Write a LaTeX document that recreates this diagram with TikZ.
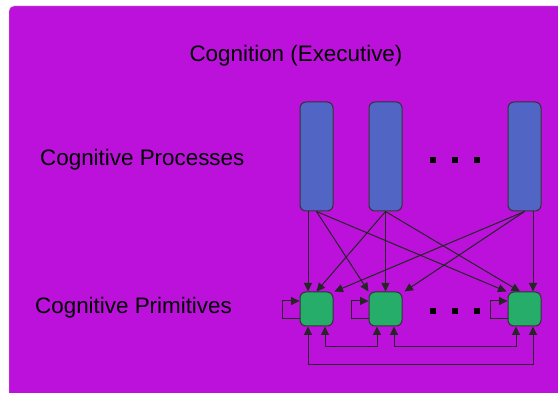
\documentclass[tikz,border=0pt]{standalone}
\usepackage{fontspec}
\setmainfont{Liberation Sans}
\usetikzlibrary{calc,arrows.meta}

\definecolor{execpurple}{RGB}{187,17,219}
\definecolor{procblue}{RGB}{80,101,196}
\definecolor{primgreen}{RGB}{38,173,106}

\tikzset{
  label/.style={inner sep=0pt, font=\fontsize{22.4}{27}\selectfont},
  procbox/.style={draw=black!80, line width=1pt, fill=procblue, rounded corners=6pt, minimum width=33pt, minimum height=109pt, inner sep=0pt},
  primbox/.style={draw=black!80, line width=1pt, fill=primgreen, rounded corners=6pt, minimum width=33pt, minimum height=34pt, inner sep=0pt},
  wire/.style={draw=black!85, line width=1pt, -{Triangle[length=8.5pt,width=8pt]}},
  twowire/.style={draw=black!85, line width=1pt, {Triangle[length=8.5pt,width=8pt]}-{Triangle[length=8.5pt,width=8pt]}}
}

\begin{document}
\begin{tikzpicture}[x=1pt,y=-1pt]
			%%%%% START %%%%%
			\useasboundingbox (0,0) rectangle (558,393);
			\fill[white] (0,0) rectangle (558,393);
			\draw[fill=execpurple, draw=black!25, rounded corners=5pt] (9,6) rectangle (575,410);
			
			\node[label] (title) at (296,56) {Cognition (Executive)};
			\node[label, anchor=west] (proc) at (40,160) {Cognitive Processes};
			\node[label, anchor=west] (prim) at (35,308) {Cognitive Primitives};
			
			% process columns
			\node[procbox] (b1) at (316.5,156.5) {};
			\node[procbox] (b2) at (385.5,156.5) {};
			\node[procbox] (b3) at (524.5,156.5) {};
			
			% primitives
			\node[primbox] (g1) at (316.5,309) {};
			\node[primbox] (g2) at (385.5,309) {};
			\node[primbox] (g3) at (524.5,309) {};
			
			% ellipsis dots
			\foreach \x in {433,455,477} {
				\fill (\x-3,157) rectangle (\x+3,163);
				\fill (\x-3,308) rectangle (\x+3,314);
			}
			
			% processes down to primitives
			\draw[wire] ($(b1.south)+(-8.5,0)$) -- ($(g1.north)+(-8.5,0)$);
			\draw[wire] (b1.south) -- (g2.north west);
			\draw[wire] (b1.south) -- ($(g3.north west)+(-1,0)$);
			\draw[wire] (b2.south) -- (g1.north);
			\draw[wire] (b2.south) -- (g2.north);
			\draw[wire] (b2.south) -- ($(g3.north)+(-4.5,0)$);
			\draw[wire] (b3.south) -- ($(g1.north east)+(1,0)$);
			\draw[wire] (b3.south) -- ($(g2.north east)+(2,0)$);
			\draw[wire] ($(b3.south)+(8.5,0)$) -- ($(g3.north)+(8.5,0)$);
			
			% self loops
			\foreach \g in {g1,g2,g3} {
				\draw[wire] ($(\g.west)+(0,10)$) -- ++(-17,0) |- ($(\g.west)+(0,-8)$);
			}
			
			% links between primitives
			\draw[twowire] ($(g1.south)+(8.5,0)$) -- ++(0,20) -| ($(g2.south)+(-8.5,0)$);
			\draw[twowire] ($(g2.south)+(8.5,0)$) -- ++(0,20) -| ($(g3.south)+(-8.5,0)$);
			\draw[twowire] ($(g1.south)+(-8.5,0)$) -- ++(0,38) -| ($(g3.south)+(8.5,0)$);
			
			%%%%% END %%%%%
\end{tikzpicture}
\end{document}
